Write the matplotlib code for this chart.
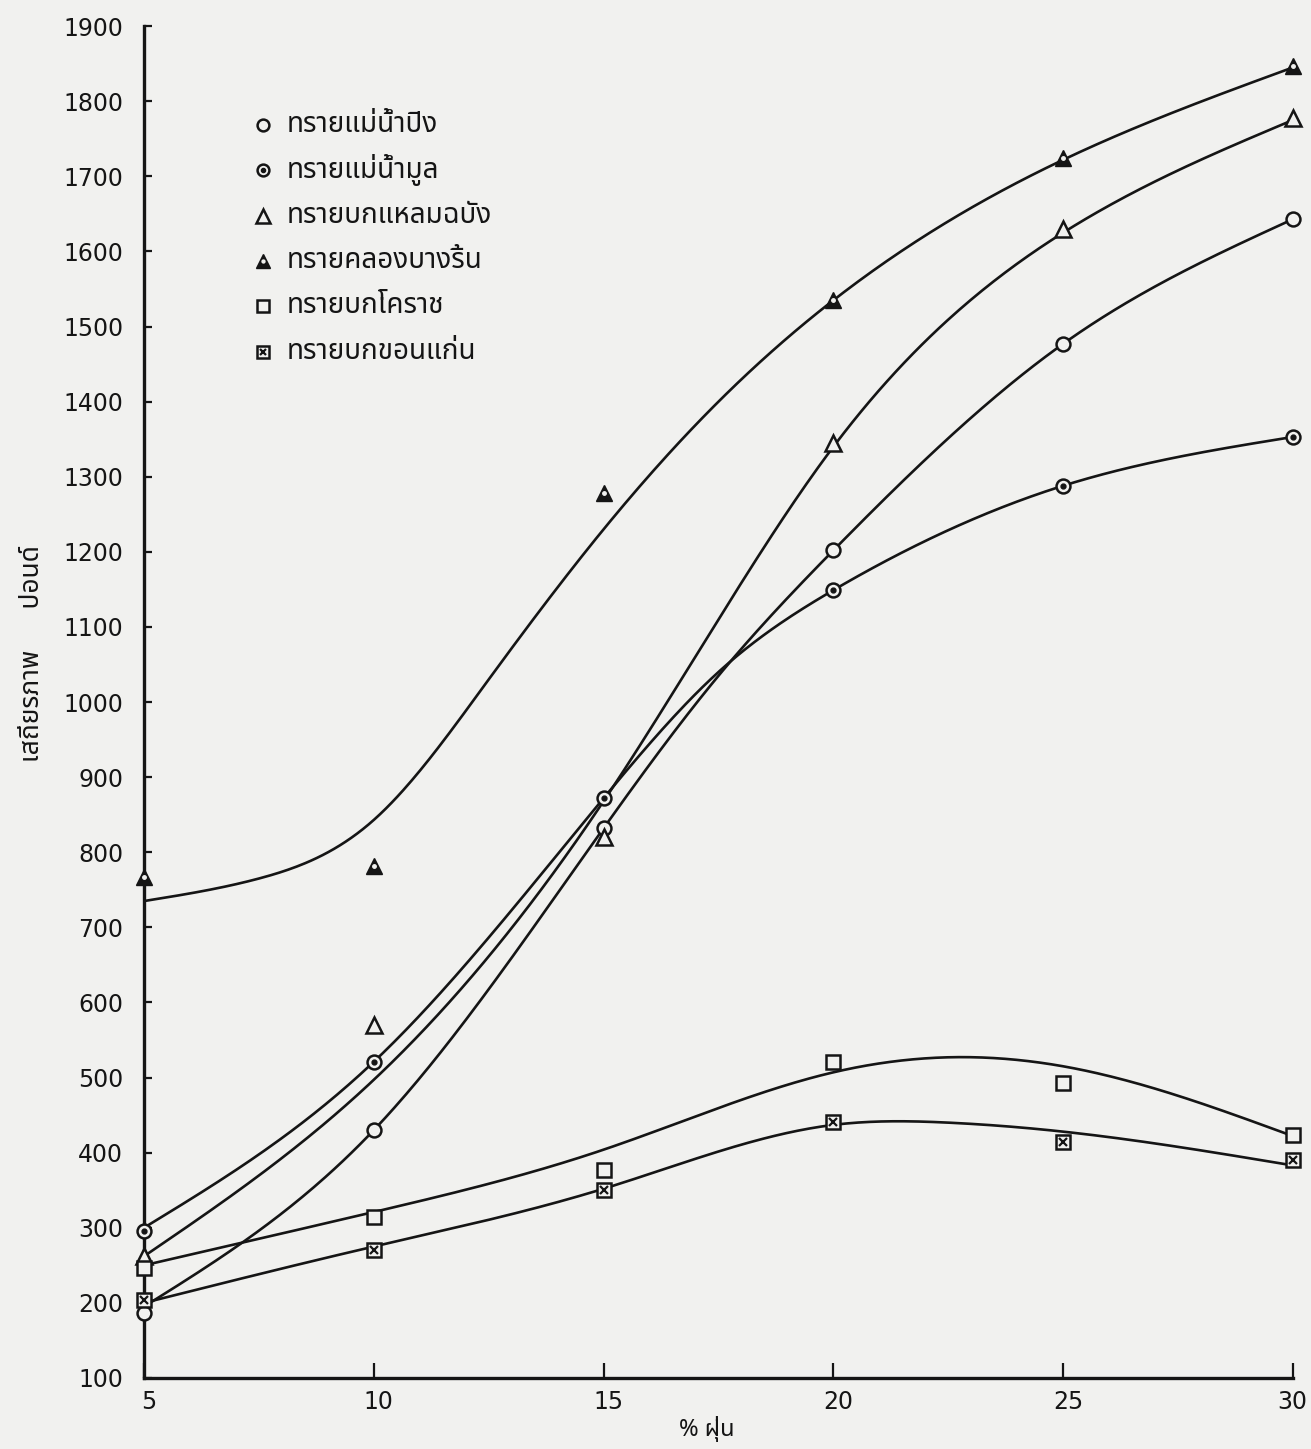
import matplotlib
matplotlib.use("Agg")
import numpy as np
import matplotlib.pyplot as plt
from matplotlib import font_manager
from matplotlib.ft2font import FT2Font
from matplotlib.transforms import ScaledTranslation

# ---------------------------------------------------------------- data
dust_pct = [5, 10, 15, 20, 25, 30]
y_ticks = list(range(100, 2000, 100))

labels = [
    "ทรายแม่น้ำปิง",
    "ทรายแม่น้ำมูล",
    "ทรายบกแหลมฉบัง",
    "ทรายคลองบางริ้น",
    "ทรายบกโคราช",
    "ทรายบกขอนแก่น",
]

# measured stability (pounds) at each dust percentage
ping = [187, 430, 832, 1202, 1477, 1643]
mun = [296, 521, 872, 1149, 1288, 1353]
laem_chabang = [262, 570, 820, 1345, 1630, 1778]
bang_rin = [767, 782, 1278, 1535, 1724, 1847]
khorat = [246, 314, 377, 521, 493, 424]
khon_kaen = [204, 270, 350, 441, 414, 390]

# hand-faired trend curves (knot x, knot y)
ping_fit_x = [5, 10, 15, 17.5, 20, 25, 30]
ping_fit_y = [195, 430, 832, 1035, 1202, 1477, 1643]
mun_fit_x = [5, 10, 15, 17.5, 20, 25, 30]
mun_fit_y = [300, 521, 872, 1040, 1149, 1288, 1353]
laem_fit_x = [5, 10, 15, 17.5, 20, 25, 30]
laem_fit_y = [262, 497, 868, 1110, 1340, 1625, 1775]
rin_fit_x = [5, 7.5, 10, 12.5, 15, 17.5, 20, 25, 30]
rin_fit_y = [735, 765, 843, 1030, 1230, 1400, 1535, 1722, 1845]
khorat_fit_x = [5, 10, 15, 20, 22.5, 25, 30]
khorat_fit_y = [250, 321, 404, 507, 527, 515, 422]
kk_fit_x = [5, 10, 15, 20, 22.5, 25, 30]
kk_fit_y = [200, 275, 352, 437, 440, 428, 383]


# ---------------------------------------------------------------- helpers
def thai_font():
    wanted = ["Noto Sans Thai", "Loma", "Garuda", "Norasi", "Tlwg Typo",
              "Sawasdee", "Waree", "Umpush", "Kinnari", "FreeSans", "FreeSerif"]
    found = {}
    for f in font_manager.fontManager.ttflist:
        try:
            ft = FT2Font(f.fname)
            if ft.get_char_index(ord("ท")) and ft.get_char_index(ord("ฝ")):
                found.setdefault(f.name, f.fname)
        except Exception:
            pass
    for name in wanted:
        if name in found:
            return name
    if found:
        return sorted(found)[0]
    return "DejaVu Sans"


def natural_spline(xk, yk, xs):
    xk = np.asarray(xk, float)
    yk = np.asarray(yk, float)
    n = len(xk)
    h = np.diff(xk)
    A = np.zeros((n, n))
    r = np.zeros(n)
    A[0, 0] = A[-1, -1] = 1.0
    for i in range(1, n - 1):
        A[i, i - 1] = h[i - 1]
        A[i, i] = 2 * (h[i - 1] + h[i])
        A[i, i + 1] = h[i]
        r[i] = 3 * ((yk[i + 1] - yk[i]) / h[i] - (yk[i] - yk[i - 1]) / h[i - 1])
    c = np.linalg.solve(A, r)
    b = (yk[1:] - yk[:-1]) / h - h * (2 * c[:-1] + c[1:]) / 3
    d = (c[1:] - c[:-1]) / (3 * h)
    idx = np.clip(np.searchsorted(xk, xs) - 1, 0, n - 2)
    t = xs - xk[idx]
    return yk[idx] + b[idx] * t + c[idx] * t ** 2 + d[idx] * t ** 3


THAI = thai_font()
INK = "#151515"
PAPER = "#f1f1ef"

plt.rcParams["font.family"] = ["DejaVu Sans"]

fig = plt.figure(figsize=(13.11, 14.49), dpi=100, facecolor=PAPER)
ax = fig.add_axes([0.1098, 0.049, 0.8765, 0.933])
ax.set_facecolor(PAPER)

xs = np.linspace(5, 30, 400)
fits = [
    (ping_fit_x, ping_fit_y),
    (mun_fit_x, mun_fit_y),
    (laem_fit_x, laem_fit_y),
    (rin_fit_x, rin_fit_y),
    (khorat_fit_x, khorat_fit_y),
    (kk_fit_x, kk_fit_y),
]
for fx, fy in fits:
    ax.plot(xs, natural_spline(fx, fy, xs), color=INK, lw=1.9, zorder=2,
            solid_capstyle="round")

# marker styles for the six sands
open_kw = dict(ls="none", markerfacecolor=PAPER, markeredgecolor=INK,
               markeredgewidth=1.8, clip_on=False, zorder=4)
styles = [
    [dict(marker="o", ms=10, **open_kw)],
    [dict(marker="o", ms=10, **open_kw),
     dict(marker="o", ms=3.5, ls="none", color=INK, clip_on=False, zorder=5)],
    [dict(marker="^", ms=12, **open_kw)],
    [dict(marker="^", ms=12, ls="none", color=INK, clip_on=False, zorder=4),
     dict(marker="o", ms=2.5, ls="none", color=PAPER, clip_on=False, zorder=5)],
    [dict(marker="s", ms=9.5, **open_kw)],
    [dict(marker="s", ms=9.5, **open_kw),
     dict(marker="x", ms=5.5, ls="none", color=INK, mew=1.6, clip_on=False,
          zorder=5)],
]
series = [ping, mun, laem_chabang, bang_rin, khorat, khon_kaen]
for vals, st in zip(series, styles):
    for kw in st:
        ax.plot(dust_pct, vals, **kw)

# key in the upper-left corner
for i, (lab, st) in enumerate(zip(labels, styles)):
    yy = 0.927 - i * 0.0336
    for kw in st:
        k = dict(kw)
        k["ms"] = k["ms"] * 0.85
        ax.plot([0.1036], [yy], transform=ax.transAxes, **k)
    ax.text(0.1245, yy, lab, transform=ax.transAxes, va="center", ha="left",
            fontsize=20, color=INK, family=[THAI, "DejaVu Sans"])

ax.set_xlim(5, 30)
ax.set_ylim(100, 1900)
ax.set_xticks(dust_pct)
ax.set_yticks(y_ticks)
ax.tick_params(axis="y", direction="in", length=6, width=1.6, pad=15,
               labelsize=17, colors=INK)
ax.tick_params(axis="x", direction="in", length=11, width=1.6, pad=9,
               labelsize=17, colors=INK)
# tick numbers sit a little right of their ticks; the last one stays inside
xlabels = ax.get_xticklabels()
for lbl in xlabels[:-1]:
    shift = ScaledTranslation(5 / 100, 0, fig.dpi_scale_trans)
    lbl.set_transform(lbl.get_transform() + shift)
xlabels[-1].set_horizontalalignment("right")
xlabels[-1].set_transform(xlabels[-1].get_transform()
                          + ScaledTranslation(14 / 100, 0, fig.dpi_scale_trans))
for side in ("top", "right"):
    ax.spines[side].set_visible(False)
for side in ("left", "bottom"):
    ax.spines[side].set_linewidth(2.4)
    ax.spines[side].set_color(INK)

ax.set_ylabel("เสถียรภาพ      ปอนด์", fontsize=19, color=INK,
              family=[THAI, "DejaVu Sans"])
ax.yaxis.set_label_coords(-0.085, 0.5355)
ax.set_xlabel("% ฝุ่น", fontsize=17, color=INK,
              family=[THAI, "DejaVu Sans"], labelpad=2)
ax.xaxis.set_label_coords(0.49, -0.028)

fig.savefig("out.png", dpi=100, facecolor=PAPER)
